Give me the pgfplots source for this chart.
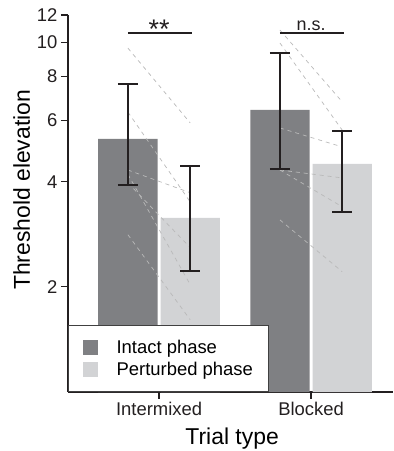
\documentclass[border=0pt]{standalone}
\usepackage{fontspec}
\setmainfont{Liberation Sans}
\usepackage{pgfplots}
\pgfplotsset{compat=1.18}
\definecolor{intactc}{RGB}{127,128,131}
\definecolor{pertc}{RGB}{210,211,213}
\definecolor{errc}{RGB}{35,31,32}
\definecolor{dashc}{RGB}{185,185,185}
\begin{document}
\begin{tikzpicture}
\begin{axis}[
  name=ax,
  width=325bp, height=377bp, scale only axis,
  ymode=log, ymin=1, ymax=12,
  xmin=-0.599, xmax=1.539,
  axis x line*=bottom, axis y line*=left,
  axis line style={line width=1.5bp, color=errc},
  tick style={line width=1.2bp, color=errc},
  tick align=outside, major tick length=7bp,
  ytick={2,4,6,8,10,12}, yticklabels={2,4,6,8,10,12},
  minor ytick={},
  xtick={0,1}, xticklabels={Intermixed,Blocked},
  /pgf/number format/assume math mode=true,
  tick label style={font=\fontsize{18.5}{21}\selectfont, color=errc},
  ylabel={Threshold elevation},
  ylabel style={at={(axis description cs:-0.117,0.536)}, anchor=base, font=\fontsize{23}{27}\selectfont},
  xlabel={Trial type},
  xlabel style={at={(axis description cs:0.505,0)}, anchor=base, yshift=-52bp, font=\fontsize{23}{27}\selectfont},
  legend style={at={(axis description cs:0,0)}, anchor=south west, fill=white, draw=black!75, line width=1.2bp,
    font=\fontsize{18.5}{22}\selectfont, inner xsep=14bp, inner ysep=12bp, row sep=4bp, column sep=17bp},
  legend cell align=left,
  clip=false,
]
% bars
\addplot[ybar, bar width=0.39, bar shift=0pt, fill=intactc, draw=none,
  legend image code/.code={\fill[intactc] (0bp,-7.5bp) rectangle (15bp,7.5bp);}]
  coordinates {(-0.205,5.30) (0.795,6.42)};
\addlegendentry{Intact phase}
\addplot[ybar, bar width=0.39, bar shift=0pt, fill=pertc, draw=none,
  legend image code/.code={\fill[pertc] (0bp,-7.5bp) rectangle (15bp,7.5bp);}]
  coordinates {(0.205,3.15) (1.205,4.50)};
\addlegendentry{Perturbed phase}
% individual subjects, intermixed
\pgfplotsset{subj/.style={dashc, line width=0.7bp, dash pattern=on 4bp off 4bp, forget plot}}
\addplot[subj] coordinates {(-0.205,9.65) (0.205,5.89)};
\addplot[subj] coordinates {(-0.205,6.33) (0.205,3.50)};
\addplot[subj] coordinates {(-0.205,4.32) (0.205,3.72)};
\addplot[subj] coordinates {(-0.205,3.97) (0.205,2.59)};
\addplot[subj] coordinates {(-0.205,4.20) (0.205,2.03)};
\addplot[subj] coordinates {(-0.205,2.82) (0.205,1.61)};
% individual subjects, blocked
\addplot[subj] coordinates {(0.795,10.87) (1.205,6.77)};
\addplot[subj] coordinates {(0.795,9.98) (1.205,5.62)};
\addplot[subj] coordinates {(0.795,5.70) (1.205,5.03)};
\addplot[subj] coordinates {(0.795,4.32) (1.205,4.10)};
\addplot[subj] coordinates {(0.795,4.32) (1.205,3.39)};
\addplot[subj] coordinates {(0.795,3.11) (1.205,2.21)};
% error bars (low / high limits)
\pgfplotsset{eb/.style={errc, line width=1.7bp, forget plot}}
\addplot[eb] coordinates {(-0.205,3.92) (-0.205,7.62)};
\addplot[eb] coordinates {(-0.271,3.92) (-0.139,3.92)};
\addplot[eb] coordinates {(-0.271,7.62) (-0.139,7.62)};
\addplot[eb] coordinates {(0.205,2.22) (0.205,4.44)};
\addplot[eb] coordinates {(0.139,2.22) (0.271,2.22)};
\addplot[eb] coordinates {(0.139,4.44) (0.271,4.44)};
\addplot[eb] coordinates {(0.795,4.35) (0.795,9.35)};
\addplot[eb] coordinates {(0.729,4.35) (0.861,4.35)};
\addplot[eb] coordinates {(0.729,9.35) (0.861,9.35)};
\addplot[eb] coordinates {(1.205,3.28) (1.205,5.59)};
\addplot[eb] coordinates {(1.139,3.28) (1.271,3.28)};
\addplot[eb] coordinates {(1.139,5.59) (1.271,5.59)};
% significance lines
\addplot[errc, line width=1.5bp, forget plot] coordinates {(-0.205,10.65) (0.215,10.65)};
\addplot[errc, line width=1.5bp, forget plot] coordinates {(0.795,10.65) (1.215,10.65)};
\node[anchor=base, yshift=-5bp, font=\fontsize{27}{29}\selectfont, text=errc] at (axis cs:0,10.65) {**};
\node[anchor=base, yshift=2.5bp, font=\fontsize{18}{20}\selectfont, text=errc] at (axis cs:1,10.65) {n.s.};
\end{axis}
\pgfresetboundingbox
\path (ax.south west) ++(-68bp,-59bp) rectangle ++(394bp,451bp);
\end{tikzpicture}
\end{document}
